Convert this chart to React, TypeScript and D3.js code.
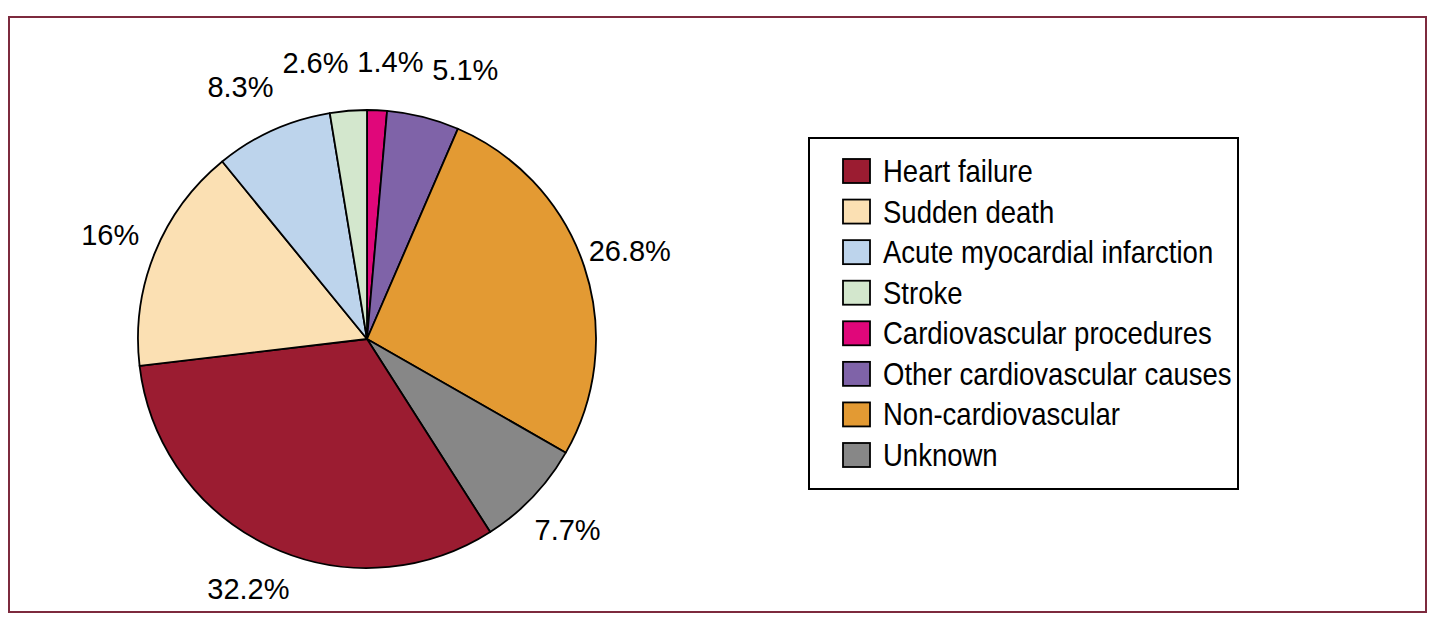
import React from "react";
import * as d3 from "d3";

const pieCategories = [
  "Cardiovascular procedures",
  "Other cardiovascular causes",
  "Non-cardiovascular",
  "Unknown",
  "Heart failure",
  "Sudden death",
  "Acute myocardial infarction",
  "Stroke",
];
const pieValues = [1.4, 5.1, 26.8, 7.7, 32.2, 16, 8.3, 2.6];
const pieLabels = ["1.4%", "5.1%", "26.8%", "7.7%", "32.2%", "16%", "8.3%", "2.6%"];

const legendOrder = [
  "Heart failure",
  "Sudden death",
  "Acute myocardial infarction",
  "Stroke",
  "Cardiovascular procedures",
  "Other cardiovascular causes",
  "Non-cardiovascular",
  "Unknown",
];

const colorMap: Record<string, string> = {
  "Heart failure": "#9b1c31",
  "Sudden death": "#fbe0b3",
  "Acute myocardial infarction": "#bdd4ec",
  "Stroke": "#d3e7cd",
  "Cardiovascular procedures": "#e0077a",
  "Other cardiovascular causes": "#7f63a8",
  "Non-cardiovascular": "#e39a33",
  "Unknown": "#878787",
};

export default function App() {
  const W = 1441;
  const H = 625;
  const cx = 367;
  const cy = 339;
  const r = 229;
  const labelR = 277;
  const labelFont = 29;

  const pie = d3
    .pie<number>()
    .value((d) => d)
    .sort(null)
    .startAngle(0)
    .endAngle(2 * Math.PI);
  const arcs = pie(pieValues);
  const arc = d3.arc<d3.PieArcDatum<number>>().innerRadius(0).outerRadius(r);
  const labelArc = d3
    .arc<d3.PieArcDatum<number>>()
    .innerRadius(labelR)
    .outerRadius(labelR);

  // label positions with simple horizontal collision relaxation
  const labels = arcs.map((a, i) => {
    const [x, y] = labelArc.centroid(a);
    return { x, y, w: pieLabels[i].length * labelFont * 0.56, text: pieLabels[i] };
  });
  const gap = 10;
  for (let iter = 0; iter < 60; iter++) {
    for (let i = 0; i < labels.length; i++) {
      for (let j = i + 1; j < labels.length; j++) {
        const A = labels[i];
        const B = labels[j];
        if (Math.abs(A.y - B.y) > labelFont) continue;
        const need = (A.w + B.w) / 2 + gap;
        const dx = B.x - A.x;
        if (Math.abs(dx) < need) {
          const push = (need - Math.abs(dx)) / 2;
          const s = dx >= 0 ? 1 : -1;
          A.x -= s * push;
          B.x += s * push;
        }
      }
    }
  }

  const legendY = d3
    .scalePoint<string>()
    .domain(legendOrder)
    .range([171, 455]);

  return (
    <svg
      width={W}
      height={H}
      style={{ position: "absolute", left: 0, top: 0, background: "#fff" }}
    >
      <rect
        x={9}
        y={17}
        width={1417}
        height={595}
        fill="#fff"
        stroke="#7d2a3e"
        strokeWidth={2}
      />
      <g transform={`translate(${cx},${cy})`}>
        {arcs.map((a, i) => (
          <path
            key={i}
            d={arc(a) || ""}
            fill={colorMap[pieCategories[i]]}
            stroke="#000"
            strokeWidth={1.8}
            strokeLinejoin="round"
          />
        ))}
        {labels.map((l, i) => (
          <text
            key={"l" + i}
            x={l.x}
            y={l.y}
            textAnchor="middle"
            dominantBaseline="central"
            fontFamily="'Liberation Sans', Arial, sans-serif"
            fontSize={labelFont}
            fill="#000"
          >
            {l.text}
          </text>
        ))}
      </g>
      <rect
        x={809}
        y={138}
        width={429}
        height={351}
        fill="#fff"
        stroke="#000"
        strokeWidth={2}
      />
      {legendOrder.map((name) => {
        const y = legendY(name) as number;
        return (
          <g key={name}>
            <rect
              x={843}
              y={y - 12}
              width={27}
              height={24}
              fill={colorMap[name]}
              stroke="#000"
              strokeWidth={1.8}
            />
            <g transform={`translate(883,${y + 11}) scale(0.86,1)`}>
              <text
                x={0}
                y={0}
                fontFamily="'Liberation Sans', Arial, sans-serif"
                fontSize={32}
                fill="#000"
              >
                {name}
              </text>
            </g>
          </g>
        );
      })}
    </svg>
  );
}
